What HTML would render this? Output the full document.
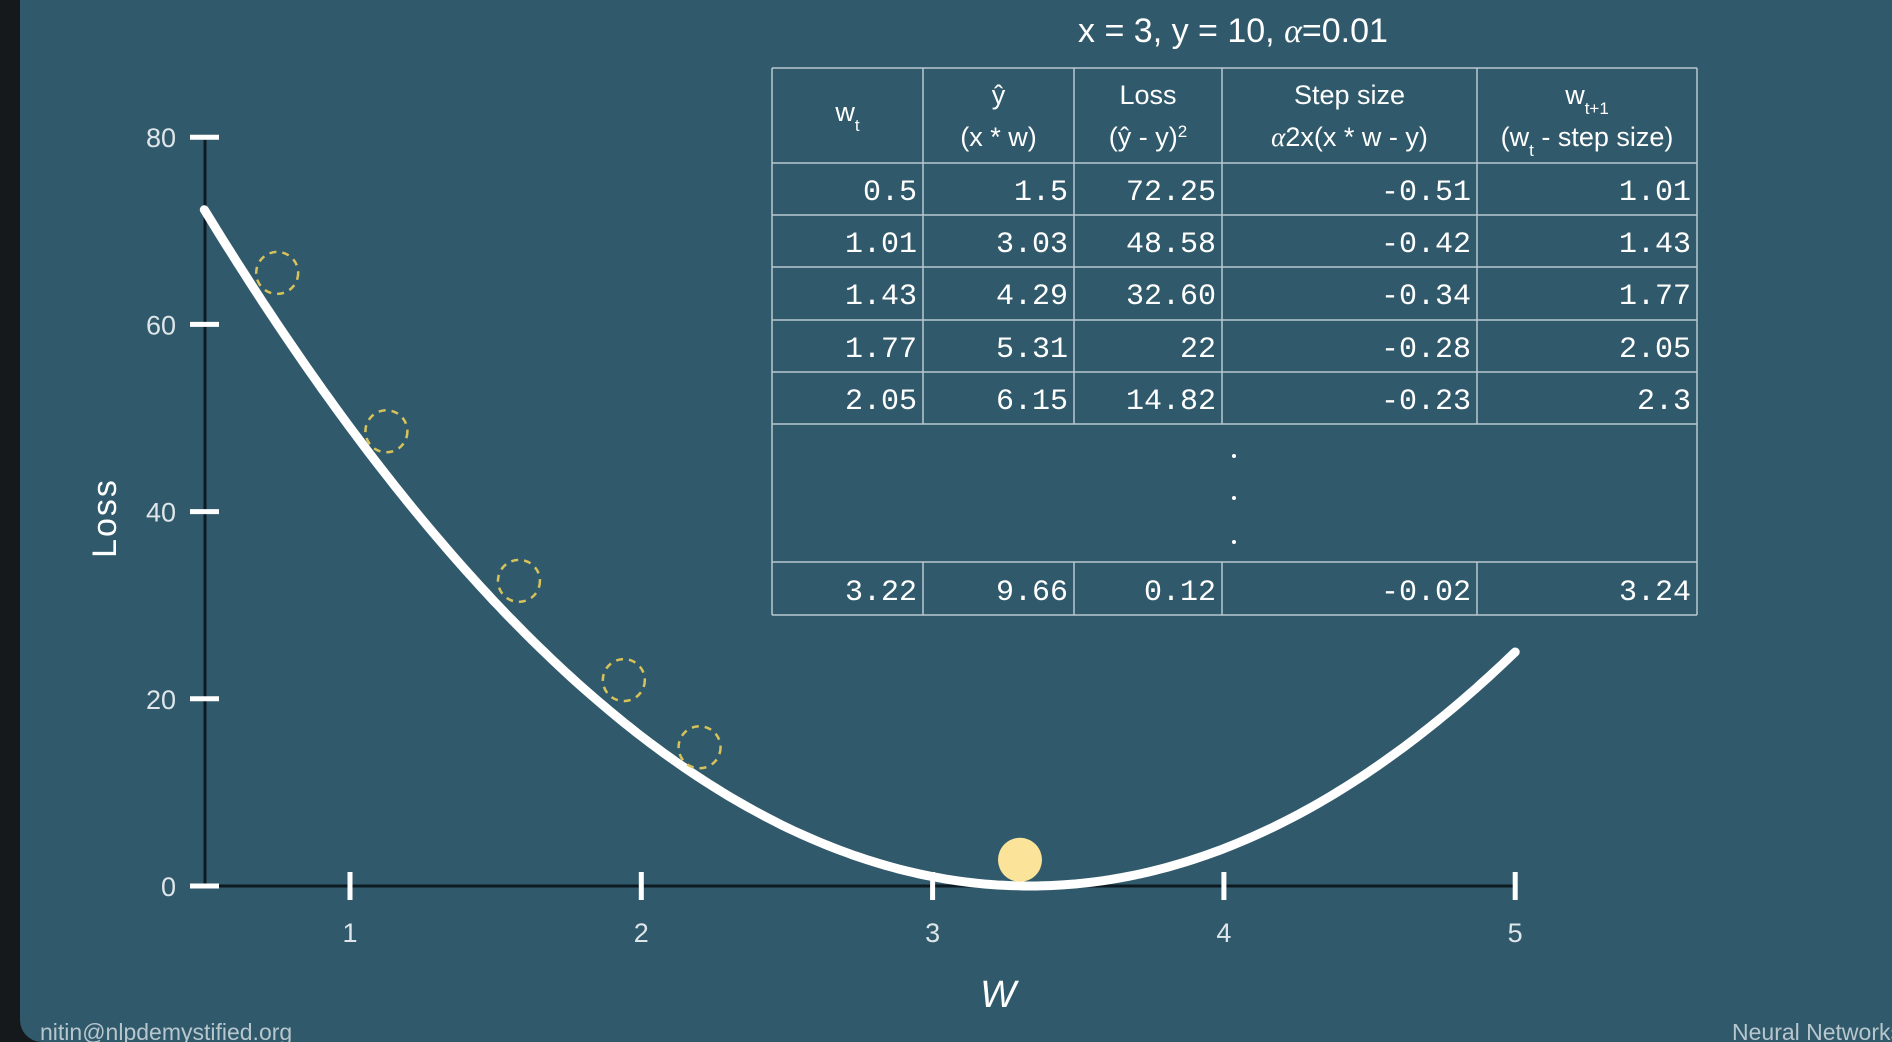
<!DOCTYPE html>
<html><head><meta charset="utf-8"><style>
html,body{margin:0;padding:0;background:#15191b;}
#wrap{position:relative;width:1892px;height:1042px;overflow:hidden;background:#15191b;}
#panel{position:absolute;left:20px;top:0;width:1900px;height:1042px;background:#305a6b;border-radius:0 0 0 22px;}
svg{position:absolute;left:0;top:0;}
</style></head><body>
<div id="wrap">
<div id="panel"></div>
<svg id="chart" width="1892" height="1042"></svg>
</div>
<script>
const xTicks=[1,2,3,4,5];
const yTicks=[0,20,40,60,80];
const stepW=[0.75,1.125,1.58,1.94,2.2];
const stepLoss=[65.5,48.58,32.6,22,14.82];
const ballW=[3.3];
const ballLoss=[2.8];
const dataX=3, dataY=10;
const headers=[["w<tspan baseline-shift='sub' font-size='17'>t</tspan>",""],["ŷ","(x * w)"],["Loss","(ŷ - y)<tspan baseline-shift='super' font-size='17'>2</tspan>"],["Step size","α2x(x * w - y)"],["w<tspan baseline-shift='sub' font-size='17'>t+1</tspan>","(w<tspan baseline-shift='sub' font-size='17'>t</tspan> - step size)"]];
const col_wt=["0.5","1.01","1.43","1.77","2.05","3.22"];
const col_yhat=["1.5","3.03","4.29","5.31","6.15","9.66"];
const col_loss=["72.25","48.58","32.60","22","14.82","0.12"];
const col_step=["-0.51","-0.42","-0.34","-0.28","-0.23","-0.02"];
const col_next=["1.01","1.43","1.77","2.05","2.3","3.24"];

const NS="http://www.w3.org/2000/svg";
const svg=document.getElementById('chart');
function el(tag,attrs,parent){const e=document.createElementNS(NS,tag);for(const k in attrs)e.setAttribute(k,attrs[k]);(parent||svg).appendChild(e);return e;}
const X=w=>350+(w-1)*291.3;
const Y=v=>886-v*9.36;

// axes
let a=el('line',{x1:205,y1:140,x2:205,y2:886,stroke:'#0d1a22','stroke-width':3});


a=el('line',{x1:205,y1:886,x2:X(5),y2:886,stroke:'#0d1a22','stroke-width':3});


yTicks.forEach(v=>{
 let t=el('line',{x1:190,y1:Y(v),x2:219,y2:Y(v),stroke:'#fff','stroke-width':5});
 
 
 let l=el('text',{x:176,y:Y(v)+10,'text-anchor':'end','font-family':'Liberation Sans, sans-serif','font-size':27,fill:'#dfe6ea'});
 l.textContent=v;
 
 
});
xTicks.forEach(v=>{
 let t=el('line',{x1:X(v),y1:872,x2:X(v),y2:900,stroke:'#fff','stroke-width':5});
 
 
 let l=el('text',{x:X(v),y:942,'text-anchor':'middle','font-family':'Liberation Sans, sans-serif','font-size':27,fill:'#dfe6ea'});
 l.textContent=v;
 
 
});
let yt=el('text',{x:0,y:0,transform:'translate(116,518) rotate(-90)','text-anchor':'middle','font-family':'Liberation Sans, sans-serif','font-size':34,fill:'#fff','letter-spacing':2});
yt.textContent='Loss';


let xt=el('text',{x:998,y:1007,'text-anchor':'middle','font-family':'Liberation Sans, sans-serif','font-size':38,'font-style':'italic',fill:'#fff'});
xt.textContent='W';



// curve
let d='';
for(let i=0;i<=200;i++){const w=0.5+4.5*i/200;const v=Math.pow(dataX*w-dataY,2);d+=(i?'L':'M')+X(w).toFixed(1)+','+Y(v).toFixed(1);}
let c=el('path',{d:d,fill:'none',stroke:'#fff','stroke-width':9,'stroke-linecap':'round'});



stepW.forEach((w,i)=>{
 let s=el('circle',{cx:X(w),cy:Y(stepLoss[i]),r:21,fill:'none',stroke:'#d8c25a','stroke-width':2.5,'stroke-dasharray':'7 6'});
 
 
});
ballW.forEach((w,i)=>{
 let b=el('circle',{cx:X(w),cy:Y(ballLoss[i]),r:22,fill:'#fbe39a'});
 
 
});

// title
let tt=el('text',{x:1233,y:42,'text-anchor':'middle','font-family':'Liberation Sans, sans-serif','font-size':34,fill:'#fff'});
tt.innerHTML='x = 3, y = 10, <tspan font-family="Liberation Serif, serif" font-style="italic">α</tspan>=0.01';



// table
const cx=[772,923,1074,1222,1477,1697];
const ry=[68,163,215,267,320,372,424,562,615];
const g=el('g',{});


const lc='#b8c7cf';
ry.forEach(y=>el('line',{x1:772,y1:y,x2:1697,y2:y,stroke:lc,'stroke-width':1.5},g));
cx.forEach((x,i)=>{
 if(i==0||i==5) el('line',{x1:x,y1:68,x2:x,y2:615,stroke:lc,'stroke-width':1.5},g);
 else{el('line',{x1:x,y1:68,x2:x,y2:424,stroke:lc,'stroke-width':1.5},g);el('line',{x1:x,y1:562,x2:x,y2:615,stroke:lc,'stroke-width':1.5},g);}
});
headers.forEach((h,i)=>{
 const mx=(cx[i]+cx[i+1])/2;
 if(h[1]===''){
  let t=el('text',{x:mx,y:121,'text-anchor':'middle','font-family':'Liberation Sans, sans-serif','font-size':27,fill:'#fff'},g);t.innerHTML=h[0];
  
  
 } else {
  let t=el('text',{x:mx,y:104,'text-anchor':'middle','font-family':'Liberation Sans, sans-serif','font-size':27,fill:'#fff'},g);t.innerHTML=h[0];
  
  
  let t2=el('text',{x:mx,y:146,'text-anchor':'middle','font-family':'Liberation Sans, sans-serif','font-size':27,fill:'#fff'},g);t2.innerHTML=h[1].replace('α','<tspan font-family="Liberation Serif, serif" font-style="italic">α</tspan>');
  
  
 }
});
const cols=[col_wt,col_yhat,col_loss,col_step,col_next];
const rowY=[200,252,304,357,409,600];
cols.forEach((col,ci)=>{
 col.forEach((v,ri)=>{
  let t=el('text',{x:cx[ci+1]-6,y:rowY[ri],'text-anchor':'end','font-family':'Liberation Mono, monospace','font-size':30,fill:'#fff'},g);
  t.textContent=v;
  
  
 });
});
[456,498,542].forEach(y=>{let dd=el('circle',{cx:1234,cy:y,r:2,fill:'#fff'},g);
 
 });

// footer
let f1=el('text',{x:40,y:1040,'font-family':'Liberation Sans, sans-serif','font-size':23,fill:'#b8c6cd'});
f1.textContent='nitin@nlpdemystified.org';


let f2=el('text',{x:1732,y:1040,'font-family':'Liberation Sans, sans-serif','font-size':23,fill:'#b8c6cd'});
f2.textContent='Neural Networks';


</script>
</body></html>
